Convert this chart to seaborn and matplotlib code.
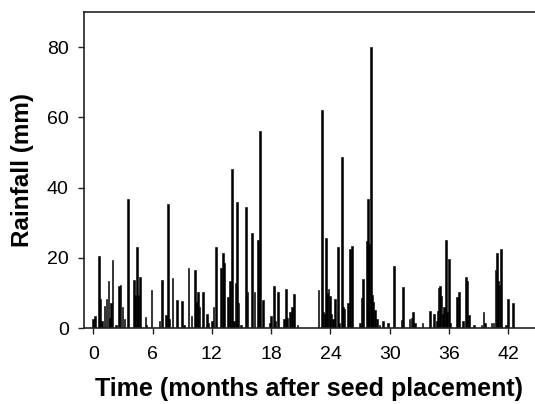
import numpy as np
import matplotlib
matplotlib.use("Agg")
import matplotlib.pyplot as plt
import seaborn as sns

# rainfall events: time (months after placement) and mm
months_a = [0.0, 0.2, 0.55, 0.7, 0.85, 1.15, 1.35, 1.55, 1.7, 1.8, 1.96, 2.3, 2.57, 2.77, 2.97, 3.15]
rain_a = [2.6, 3.5, 20.4, 8.3, 2.0, 6.2, 8.3, 13.5, 3.0, 7.0, 19.5, 1.0, 11.9, 12.3, 6.0, 2.5]

months_b = [3.48, 4.12, 4.22, 4.42, 4.55, 4.73, 5.27, 5.4, 5.9, 6.7, 6.95, 7.35, 7.53, 7.65, 8.03]
rain_b = [36.8, 13.8, 9.3, 23.1, 9.5, 14.4, 3.1, 1.0, 10.9, 2.0, 13.6, 3.8, 35.4, 2.5, 14.2]

months_c = [8.44, 8.95, 9.2, 9.65, 9.95, 10.26, 10.4, 10.57, 10.75, 11.07, 11.5, 11.65, 12.0, 12.15]
rain_c = [8.1, 7.8, 1.0, 17.0, 3.5, 16.4, 7.5, 10.3, 6.0, 10.3, 4.0, 1.5, 2.0, 6.0]

months_d = [12.39, 12.9, 13.1, 13.25, 13.6, 13.84, 14.07, 14.25, 14.4, 14.51, 14.7, 14.95, 15.46]
rain_d = [23.1, 17.2, 21.4, 18.5, 8.8, 13.5, 45.3, 2.0, 12.7, 35.9, 7.0, 1.0, 34.5]

months_e = [15.6, 16.03, 16.3, 16.64, 16.78, 16.9, 17.2, 17.85, 17.95, 18.26, 18.45, 18.66, 19.3]
rain_e = [10.4, 27.0, 10.3, 25.0, 11.0, 56.2, 7.9, 1.5, 3.3, 12.0, 2.0, 10.3, 2.5]

months_f = [19.47, 19.6, 19.94, 20.1, 20.28, 20.65]
rain_f = [11.0, 3.0, 4.5, 6.0, 9.7, 1.0]

months_g = [22.78, 23.15, 23.3, 23.42, 23.55, 23.68, 23.8, 23.95, 24.1, 24.25, 24.46, 24.73, 24.85]
rain_g = [10.9, 62.2, 4.5, 4.0, 25.6, 10.0, 11.0, 9.0, 4.0, 2.5, 8.3, 23.0, 1.5]

months_h = [25.14, 25.3, 25.42, 25.8, 25.95, 26.18, 27.0, 27.15, 27.26, 27.67, 27.8, 27.93, 28.07]
rain_h = [48.7, 6.0, 5.5, 7.0, 22.5, 23.4, 1.5, 8.6, 14.0, 24.7, 36.8, 24.0, 80.0]

months_i = [28.2, 28.33, 28.48, 28.7, 28.95, 29.3, 29.8, 30.4, 31.2, 31.35, 32.0, 32.2, 32.36]
rain_i = [9.5, 7.3, 5.0, 2.7, 1.0, 2.0, 1.5, 17.6, 2.3, 11.7, 2.5, 3.0, 4.6]

months_j = [32.55, 33.3, 34.05, 34.5, 34.75, 34.85, 34.95, 35.1, 35.25, 35.38, 35.5, 35.66, 35.8]
rain_j = [1.5, 1.5, 4.8, 4.0, 2.0, 4.8, 11.5, 12.0, 9.0, 4.0, 6.0, 25.2, 4.5]

months_k = [35.97, 36.1, 36.8, 37.0, 37.4, 37.75, 37.88, 38.0, 38.5, 39.3, 39.5, 39.65, 40.3]
rain_k = [19.7, 1.5, 8.8, 10.3, 2.0, 14.4, 13.5, 3.7, 1.0, 1.0, 4.6, 1.5, 1.5]

months_l = [40.5, 40.7, 40.86, 40.98, 41.1, 41.27, 41.75, 42.0, 42.45]
rain_l = [1.5, 16.6, 21.4, 13.5, 12.3, 22.5, 1.0, 8.3, 7.0]

x_ticks = [0, 6, 12, 18, 24, 30, 36, 42]
y_ticks = [0, 20, 40, 60, 80]

months = (months_a + months_b + months_c + months_d + months_e + months_f
          + months_g + months_h + months_i + months_j + months_k + months_l)
rain = (rain_a + rain_b + rain_c + rain_d + rain_e + rain_f
        + rain_g + rain_h + rain_i + rain_j + rain_k + rain_l)

sns.set_style("ticks")
plt.rcParams['font.family'] = ['Liberation Sans', 'DejaVu Sans']
plt.rcParams['text.color'] = 'black'
plt.rcParams['axes.labelcolor'] = 'black'
plt.rcParams['xtick.color'] = 'black'
plt.rcParams['ytick.color'] = 'black'

fig = plt.figure(figsize=(5.35, 4.04), dpi=100)
ax = fig.add_axes([0.157, 0.188, 0.843, 0.782])

ax.bar(months, rain, width=0.17, color='black', edgecolor='black', linewidth=0.4)

ax.set_xlim(-0.94, 44.7)
ax.set_ylim(0, 90)
ax.set_xticks(x_ticks)
ax.set_yticks(y_ticks)
ax.tick_params(axis='both', labelsize=14, length=4, width=1, color='#222222')
ax.tick_params(axis='x', pad=9)
ax.tick_params(axis='y', pad=7)

for side in ['left', 'top', 'bottom']:
    ax.spines[side].set_visible(True)
    ax.spines[side].set_linewidth(1.2)
    ax.spines[side].set_color('#222222')
ax.spines['right'].set_visible(False)

ax.set_xlabel('Time (months after seed placement)', fontsize=18, fontweight='bold', labelpad=10)
ax.set_ylabel('Rainfall (mm)', fontsize=17.5, fontweight='bold', labelpad=9)

fig.savefig('out.png', dpi=100)
